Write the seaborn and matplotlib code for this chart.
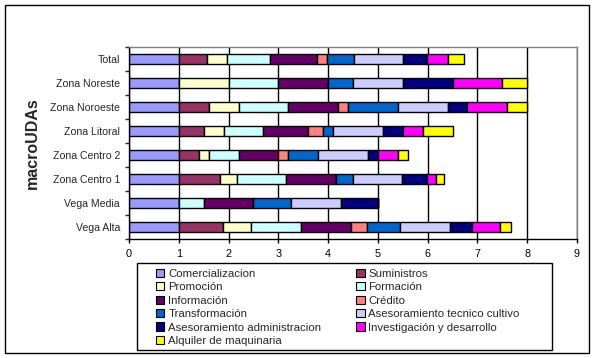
import numpy as np
import seaborn as sns
import matplotlib.pyplot as plt
from matplotlib.patches import Patch, Rectangle

# Categorias (de arriba a abajo)
categories = ["Total", "Zona Noreste", "Zona Noroeste", "Zona Litoral",
              "Zona Centro 2", "Zona Centro 1", "Vega Media", "Vega Alta"]

# Valores por serie (mismo orden que categories)
comercializacion = [1.0, 1.0, 1.0, 1.0, 1.0, 1.0, 1.0, 1.0]
suministros = [0.57, 0.0, 0.6, 0.5, 0.4, 0.83, 0.0, 0.89]
promocion = [0.40, 1.0, 0.6, 0.4, 0.2, 0.33, 0.0, 0.56]
formacion = [0.86, 1.0, 1.0, 0.8, 0.6, 1.0, 0.5, 1.0]
informacion = [0.95, 1.0, 1.0, 0.9, 0.8, 1.0, 1.0, 1.0]
credito = [0.20, 0.0, 0.2, 0.3, 0.2, 0.0, 0.0, 0.33]
transformacion = [0.54, 0.5, 1.0, 0.2, 0.6, 0.33, 0.75, 0.67]
ases_tecnico = [0.98, 1.0, 1.0, 1.0, 1.0, 1.0, 1.0, 1.0]
ases_admin = [0.48, 1.0, 0.4, 0.4, 0.2, 0.5, 0.75, 0.44]
investigacion = [0.43, 1.0, 0.8, 0.4, 0.4, 0.17, 0.0, 0.56]
alquiler = [0.32, 0.5, 0.4, 0.6, 0.2, 0.17, 0.0, 0.22]

series_names = ["Comercializacion", "Suministros", "Promoción", "Formación",
                "Información", "Crédito", "Transformación",
                "Asesoramiento tecnico cultivo", "Asesoramiento administracion",
                "Investigación y desarrollo", "Alquiler de maquinaria"]
series_values = [comercializacion, suministros, promocion, formacion,
                 informacion, credito, transformacion, ases_tecnico,
                 ases_admin, investigacion, alquiler]
colors = ["#9999FF", "#993366", "#FFFFCC", "#CCFFFF", "#660066", "#FF8080",
          "#0066CC", "#CCCCFF", "#000080", "#FF00FF", "#FFFF00"]

sns.set_style("white")
plt.rcParams["font.family"] = ["Liberation Sans", "DejaVu Sans"]

W, H = 595, 358
fig = plt.figure(figsize=(W / 100, H / 100), dpi=100)
ax = fig.add_axes([129 / W, (H - 239) / H, 448 / W, 192 / H])

# Barras apiladas
left = np.zeros(len(categories))
for name, vals, col in zip(series_names, series_values, colors):
    sns.barplot(x=vals, y=categories, order=categories, orient="h",
                color=col, saturation=1, width=0.42, errorbar=None,
                left=left, edgecolor="black", linewidth=1.0, ax=ax)
    left = left + np.array(vals)

ax.set_xlim(0, 9)
ax.set_xticks(range(0, 10))
ax.set_ylim(len(categories) - 0.5, -0.5)

ax.set_axisbelow(True)
ax.xaxis.grid(True, color="black", linewidth=1.0)
ax.yaxis.grid(False)

for s in ["top", "right"]:
    ax.spines[s].set_color("#808080")
    ax.spines[s].set_linewidth(1.0)
for s in ["left", "bottom"]:
    ax.spines[s].set_color("black")
    ax.spines[s].set_linewidth(1.0)

ax.tick_params(axis="x", direction="out", length=3, width=1, pad=4.5,
               labelsize=7.8, colors="black", bottom=True)
ax.set_yticks(np.arange(len(categories) + 1) - 0.5, minor=True)
ax.tick_params(axis="y", which="minor", direction="out", length=3, width=1,
               left=True)
ax.tick_params(axis="y", which="major", length=0, pad=6.5, labelsize=7.6)

ax.set_xlabel("")
ax.set_ylabel("macroUDAs", fontsize=11.5, fontweight="bold")
ax.yaxis.set_label_coords(-0.2, 0.5)

# Leyenda (orden por columnas para imitar el orden por filas)
handles = [Patch(facecolor=c, edgecolor="black", linewidth=0.8) for c in colors]
idx = [0, 2, 4, 6, 8, 10, 1, 3, 5, 7, 9]
fig.legend([handles[i] for i in idx], [series_names[i] for i in idx],
           loc="upper left", bbox_to_anchor=(150 / W, 1 - 263 / H),
           ncol=2, frameon=False, borderpad=0, fontsize=8.2,
           handlelength=0.75, handleheight=0.75, handletextpad=0.35,
           labelspacing=0.29, columnspacing=3.05)
fig.patches.append(Rectangle((137 / W, 8 / H), 415 / W, 87 / H,
                             transform=fig.transFigure, fill=False,
                             edgecolor="black", linewidth=1.0))

# Borde exterior del grafico
fig.patches.append(Rectangle((5 / W, 5 / H), 584 / W, 348 / H,
                             transform=fig.transFigure, fill=False,
                             edgecolor="black", linewidth=1.0))

plt.savefig("out.png", dpi=100)
